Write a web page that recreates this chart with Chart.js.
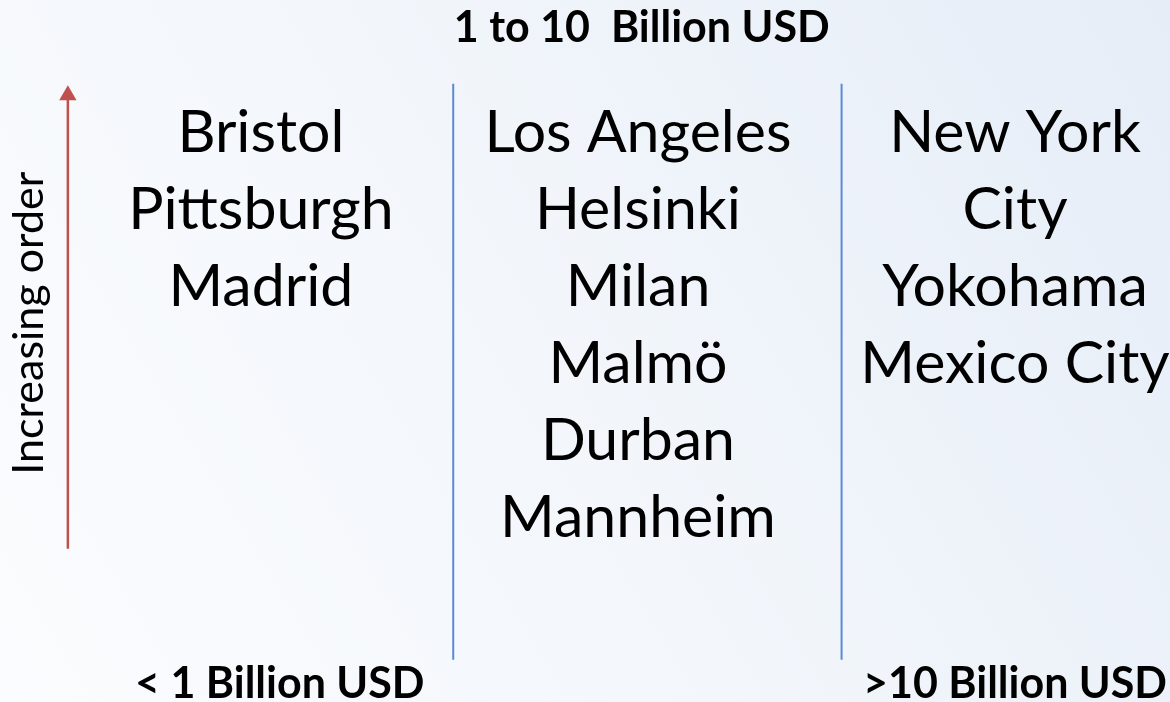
<!DOCTYPE html>
<html>
<head>
<meta charset="utf-8">
<script src="https://cdn.jsdelivr.net/npm/chart.js@4"></script>
<style>
  html, body { margin: 0; padding: 0; background: #f4f7fc; }
  #wrap { width: 1170px; height: 702px; }
</style>
</head>
<body>
<div id="wrap"><canvas id="myChart"></canvas></div>
<script>
// columns, left to right
const columnLabels = ['< 1 Billion USD', '1 to 10  Billion USD', '>10 Billion USD']
const lowCities = ['Bristol', 'Pittsburgh', 'Madrid']
const midCities = ['Los Angeles', 'Helsinki', 'Milan', 'Malmö', 'Durban', 'Mannheim']
const highCities = ['New York City', 'Yokohama', 'Mexico City']
const dividers = [0.51, 1.54]
const axisLabel = 'Increasing order'

const FONT = 'Lato'
const ROW_TOP = -0.64
const ROW_BOTTOM = 6.84

function wrapText(ctx, text, maxWidth) {
    const words = text.split(' ')
    let lines = []
    let line = ''
    words.forEach(w => {
        const test = line ? line + ' ' + w : w
        if (ctx.measureText(test).width > maxWidth && line) {
            lines.push(line)
            line = w
        } else {
            line = test
        }
    })
    if (line) lines.push(line)
    return lines
}

const bgPlugin = {
    id: 'bg',
    beforeDraw(chart) {
        const c = chart.ctx
        const g = c.createLinearGradient(0, chart.height, chart.width, 0)
        g.addColorStop(0, '#fbfcfe')
        g.addColorStop(0.5, '#f2f6fb')
        g.addColorStop(1, '#e6edf7')
        c.save()
        c.fillStyle = g
        c.fillRect(0, 0, chart.width, chart.height)
        c.restore()
    }
}

const textPlugin = {
    id: 'cityText',
    afterDatasetsDraw(chart) {
        const c = chart.ctx
        const xs = chart.scales.x
        const ys = chart.scales.y
        c.save()
        c.fillStyle = '#000'
        c.textAlign = 'center'
        c.textBaseline = 'middle'

        // city names in each column
        c.font = '400 59px ' + FONT
        const cols = [lowCities, midCities, highCities]
        cols.forEach((list, col) => {
            let row = 0
            list.forEach(name => {
                wrapText(c, name, 330).forEach(line => {
                    c.fillText(line, xs.getPixelForValue(col), ys.getPixelForValue(row))
                    row++
                })
            })
        })

        // column captions
        c.font = '700 43px ' + FONT
        c.fillText(columnLabels[1], xs.getPixelForValue(1.01), ys.getPixelForValue(-1.36))
        c.fillText(columnLabels[0], xs.getPixelForValue(0.05), ys.getPixelForValue(7.16))
        c.fillText(columnLabels[2], xs.getPixelForValue(2), ys.getPixelForValue(7.16))

        // rotated axis label
        c.font = '400 43px ' + FONT
        c.translate(xs.getPixelForValue(-0.615), ys.getPixelForValue(2.47))
        c.rotate(-Math.PI / 2)
        c.fillText(axisLabel, 0, 0)
        c.restore()
    }
}

const ctx = document.getElementById('myChart')
new Chart(ctx, {
    type: 'scatter',
    data: {
        datasets: [
            ...dividers.map(d => ({
                data: [{x: d, y: ROW_TOP}, {x: d, y: ROW_BOTTOM}],
                showLine: true,
                borderColor: '#5b8bd0',
                borderWidth: 2,
                pointRadius: 0
            })),
            {
                data: [{x: -0.512, y: 5.4}, {x: -0.512, y: -0.49}],
                showLine: true,
                borderColor: '#c0504d',
                backgroundColor: '#c0504d',
                borderWidth: 2.5,
                pointStyle: 'triangle',
                pointRadius: [0, 10],
                pointBorderWidth: 0
            }
        ]
    },
    options: {
        responsive: true,
        maintainAspectRatio: false,
        animation: false,
        layout: { padding: 0, autoPadding: false },
        plugins: { legend: { display: false }, tooltip: { enabled: false } },
        scales: {
            x: { type: 'linear', display: false, min: -0.692, max: 2.411 },
            y: { type: 'linear', display: false, reverse: true, min: -1.727, max: 7.39 }
        }
    },
    plugins: [bgPlugin, textPlugin]
})
</script>
</body>
</html>
